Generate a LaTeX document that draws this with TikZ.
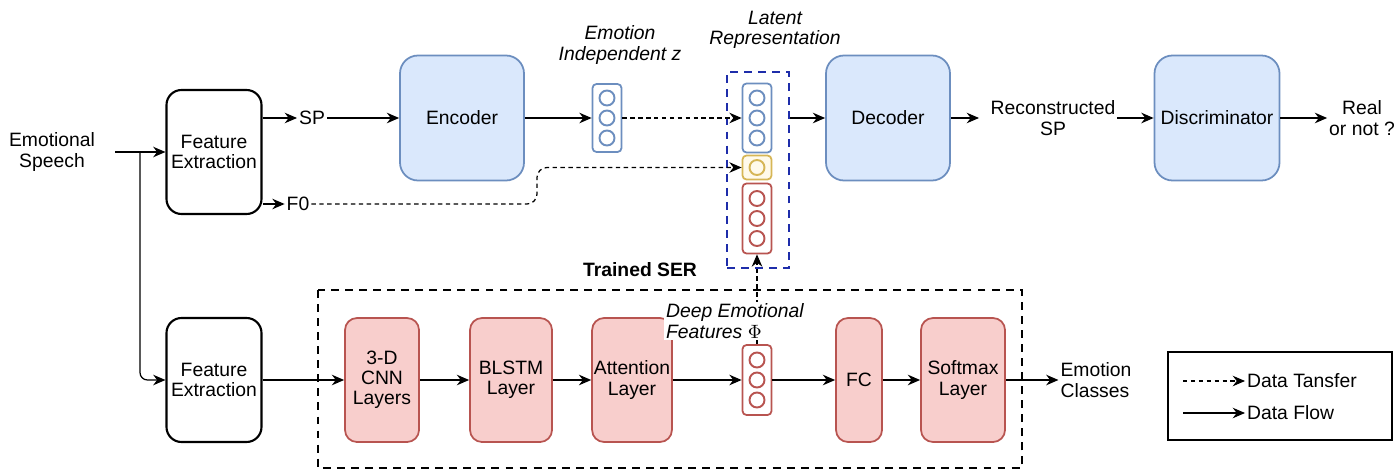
\documentclass[tikz,border=0pt]{standalone}
\usepackage{fontspec}
\setmainfont{Liberation Sans}
\usetikzlibrary{arrows.meta,positioning}

\definecolor{encfill}{HTML}{DAE8FC}
\definecolor{encline}{HTML}{6C8EBF}
\definecolor{serfill}{HTML}{F8CECC}
\definecolor{serline}{HTML}{B85450}
\definecolor{f0fill}{HTML}{FFF2CC}
\definecolor{f0line}{HTML}{D6B656}
\definecolor{latline}{RGB}{30,45,170}

\tikzset{
  every node/.style={font=\fontsize{11}{11.5}\selectfont},
  extract/.style={draw, line width=1.2pt, rounded corners=0.3cm, align=center,
    minimum width=1.9cm, minimum height=2.48cm, inner sep=1pt},
  encbox/.style={draw=encline, fill=encfill, line width=1pt, rounded corners=0.36cm,
    align=center, minimum height=2.5cm, inner sep=1pt},
  serbox/.style={draw=serline, fill=serfill, line width=1pt, rounded corners=0.24cm,
    align=center, minimum height=2.48cm, inner sep=1pt},
  vecbox/.style={draw, fill=white, line width=1pt, rounded corners=0.08cm,
    minimum width=0.58cm, inner sep=0pt},
  unit/.style={circle, draw, line width=1.1pt, minimum size=0.3cm, inner sep=0pt},
  txt/.style={align=center, inner sep=1pt},
  flow/.style={-{Stealth[length=7pt,width=6pt]}, line width=0.7pt},
  transfer/.style={flow, dash pattern=on 2.5pt off 2pt},
  group/.style={line width=1.3pt, dash pattern=on 4.5pt off 3.5pt},
}

\begin{document}
\begin{tikzpicture}
\useasboundingbox (0,0) rectangle (27.92,-9.44);

% ---------- (A) feature extraction ----------
\node[txt] (speech) at (1.04,-3.04) {Emotional\\Speech};
\node[extract] (fe1) at (4.28,-3.04) {Feature\\Extraction};
\node[extract] (fe2) at (4.28,-7.6) {Feature\\Extraction};
\node[txt] (sp) at (6.24,-2.36) {SP};
\node[txt] (f0) at (5.96,-4.08) {F0};
\coordinate (start) at (2.3,-3.04);
\coordinate (split) at (2.8,-3.04);

\draw[flow] (start) -- (fe1.west);
\draw[flow, rounded corners=0.15cm] (split) |- (fe2.west);
\draw[flow] (fe1.east |- sp.west) -- (sp.west);
\draw[flow] (fe1.east |- f0.west) -- (f0.west);

% ---------- (B) encoder and latent code ----------
\node[encbox, minimum width=2.48cm] (enc) at (9.24,-2.36) {Encoder};
\node[vecbox, draw=encline, minimum height=1.36cm] (zvec) at (12.14,-2.36) {};
\foreach \k in {-1,0,1}
  \path (zvec) ++(0,0.4*\k) node[unit, draw=encline] {};
\node[txt, font=\fontsize{11}{11.5}\selectfont\itshape] (zlab) at (12.4,-0.9) {Emotion\\Independent z};

\node[draw=latline, group, minimum width=1.24cm, minimum height=3.92cm, inner sep=0pt] (latent) at (15.16,-3.4) {};
\node[vecbox, draw=encline, minimum height=1.38cm] (bvec) at (15.14,-2.36) {};
\foreach \k in {-1,0,1}
  \path (bvec) ++(0,0.4*\k) node[unit, draw=encline] {};
\node[vecbox, draw=f0line, fill=f0fill!40, minimum height=0.48cm] (yvec) at (15.14,-3.35) {};
\node[unit, draw=f0line] at (yvec) {};
\node[vecbox, draw=serline, minimum height=1.4cm] (rvec) at (15.14,-4.37) {};
\foreach \k in {-1,0,1}
  \path (rvec) ++(0,0.4*\k) node[unit, draw=serline] {};
\node[txt, font=\fontsize{11}{11.5}\selectfont\itshape] (latlab) at (15.5,-0.6) {Latent\\Representation};

\draw[flow] (sp.east) -- (enc.west);
\draw[flow] (enc.east) -- (zvec.west);
\draw[transfer] (zvec.east) -- (bvec.west);
\coordinate (f0bend) at (10.74,-4.08);
\draw[transfer, rounded corners=0.2cm] (f0.east) -- (f0bend) |- (yvec.west);

% ---------- (C) decoder and discriminator ----------
\node[encbox, minimum width=2.48cm] (dec) at (17.76,-2.36) {Decoder};
\node[txt] (recon) at (21.06,-2.36) {Reconstructed\\SP};
\node[encbox, minimum width=2.5cm] (disc) at (24.34,-2.36) {Discriminator};
\node[txt] (real) at (27.24,-2.36) {Real\\or not ?};
\coordinate (decout) at (19.58,-2.36);

\draw[flow] (latent.east |- dec.west) -- (dec.west);
\draw[flow] (dec.east) -- (decout);
\draw[flow, line width=1.1pt] (recon.east) -- (disc.west);
\draw[flow] (disc.east) -- (real.west);

% ---------- (D) trained SER ----------
\draw[group] (6.36,-5.8) rectangle (20.44,-9.36);
\node[font=\fontsize{11}{11.5}\selectfont\bfseries] (serlab) at (12.8,-5.4) {Trained SER};

\node[serbox, minimum width=1.48cm] (cnn) at (7.64,-7.6) {3-D\\CNN\\Layers};
\node[serbox, minimum width=1.64cm] (blstm) at (10.22,-7.6) {BLSTM\\Layer};
\node[serbox, minimum width=1.54cm] (att) at (12.64,-7.6) {Attention\\Layer};
\node[vecbox, draw=serline, minimum height=1.4cm] (phi) at (15.14,-7.6) {};
\foreach \k in {-1,0,1}
  \path (phi) ++(0,0.4*\k) node[unit, draw=serline] {};
\node[serbox, minimum width=0.92cm] (fc) at (17.18,-7.6) {FC};
\node[serbox, minimum width=1.68cm] (soft) at (19.26,-7.6) {Softmax\\Layer};
\node[txt, align=left] (classes) at (21.92,-7.6) {Emotion\\Classes};

\draw[flow] (fe2.east) -- (cnn.west);
\draw[flow] (cnn.east) -- (blstm.west);
\draw[flow] (blstm.east) -- (att.west);
\draw[flow] (att.east) -- (phi.west);
\draw[flow] (phi.east) -- (fc.west);
\draw[flow, line width=1.1pt] (fc.east) -- (soft.west);
\draw[flow] (soft.east) -- (classes.west);
\draw[transfer] (phi.north) -- (rvec.south);
\node[txt, align=left, anchor=west, fill=white, font=\fontsize{11}{11.5}\selectfont\itshape] (philab) at (13.28,-6.42) {Deep Emotional\\Features $\Phi$};

% ---------- legend ----------
\node[draw, line width=1.2pt, minimum width=4.48cm, minimum height=1.76cm] (legend) at (25.6,-7.92) {};
\coordinate (l1) at (23.66,-7.62);
\coordinate (l2) at (23.66,-8.26);
\node[anchor=west, inner sep=1pt] (l1txt) at (24.9,-7.62) {Data Tansfer};
\node[anchor=west, inner sep=1pt] (l2txt) at (24.9,-8.26) {Data Flow};
\draw[transfer] (l1) -- (l1txt.west);
\draw[flow] (l2) -- (l2txt.west);

\end{tikzpicture}
\end{document}
